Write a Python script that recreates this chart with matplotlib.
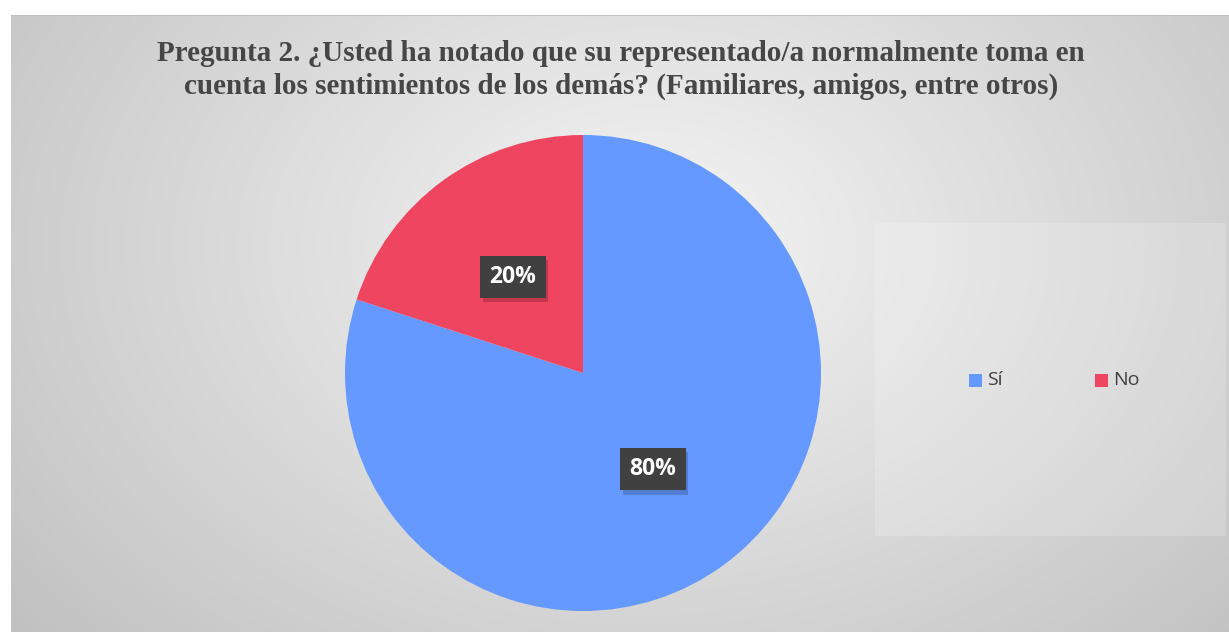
import numpy as np
import matplotlib
matplotlib.use("Agg")
import matplotlib.pyplot as plt
from matplotlib.patches import Rectangle
import matplotlib.patheffects as pe

title = "Pregunta 2. ¿Usted ha notado que su representado/a normalmente toma en\ncuenta los sentimientos de los demás? (Familiares, amigos, entre otros)"
categories = ["Sí", "No"]
values = [80, 20]
colors = ["#6699FF", "#EF4560"]

W, H = 1229, 632
fig = plt.figure(figsize=(W / 100, H / 100), dpi=100)
fig.patch.set_facecolor("white")

# background gradient area
bx0, by0 = 11, 15  # px from left/top
bg_ax = fig.add_axes([bx0 / W, 0, (W - bx0) / W, (H - by0) / H])
bg_ax.set_axis_off()
yy, xx = np.mgrid[0:H - by0, 0:W - bx0]
cx, cy = 640, 230
d = np.sqrt(((xx - cx) / 900.0) ** 2 + ((yy - cy) / 650.0) ** 2)
g = 0.96 - 0.22 * np.clip(d, 0, 1.2)
img = np.dstack([g, g, g])
bg_ax.imshow(np.clip(img, 0, 1), aspect="auto", extent=[0, 1, 0, 1], origin="upper")
bg_ax.plot([0, 1], [1, 1], color="#BDBDBD", lw=1.2, transform=bg_ax.transAxes)

# legend panel
fig.patches.append(Rectangle((875 / W, 1 - 536 / H), (1226 - 875) / W, (536 - 223) / H,
                             transform=fig.transFigure, facecolor="white", alpha=0.18,
                             edgecolor="none", zorder=1))

fig.text(621 / W, 1 - 70 / H, title, ha="center", va="center", fontsize=21,
         fontweight="bold", family="Liberation Serif", color="#464646", linespacing=1.25)

# pie
cxp, cyp, r = 583, 373, 238
ax = fig.add_axes([(cxp - r) / W, (H - cyp - r) / H, 2 * r / W, 2 * r / H])
wedges, texts, autotexts = ax.pie(values, colors=colors, startangle=90, counterclock=False,
                                  autopct="%1.0f%%", pctdistance=0.5, radius=1,
                                  wedgeprops=dict(linewidth=0))
ax.set_xlim(-1, 1)
ax.set_ylim(-1, 1)
ax.set_aspect("equal")
for t in autotexts:
    t.set_color("white")
    t.set_fontsize(16.5)
    t.set_fontweight("bold")
    t.set_family("Open Sans")
    t.set_bbox(dict(boxstyle="square,pad=0.4", facecolor="#404040", edgecolor="none"))
    t.get_bbox_patch().set_path_effects([
        pe.SimplePatchShadow(offset=(2, -3), shadow_rgbFace="black", alpha=0.18),
        pe.Normal()])
    t.set_zorder(5)

# legend
leg_y = 1 - 380 / H
for i, (cat, col) in enumerate(zip(categories, colors)):
    sx = [969, 1095][i]
    fig.patches.append(Rectangle((sx / W, leg_y - 6.5 / H), 13 / W, 13 / H,
                                 transform=fig.transFigure, facecolor=col, edgecolor="none", zorder=3))
    fig.text((sx + 18) / W, leg_y, cat, ha="left", va="center", fontsize=14,
             family="Open Sans", color="#404040")

fig.savefig("out.png", dpi=100)
